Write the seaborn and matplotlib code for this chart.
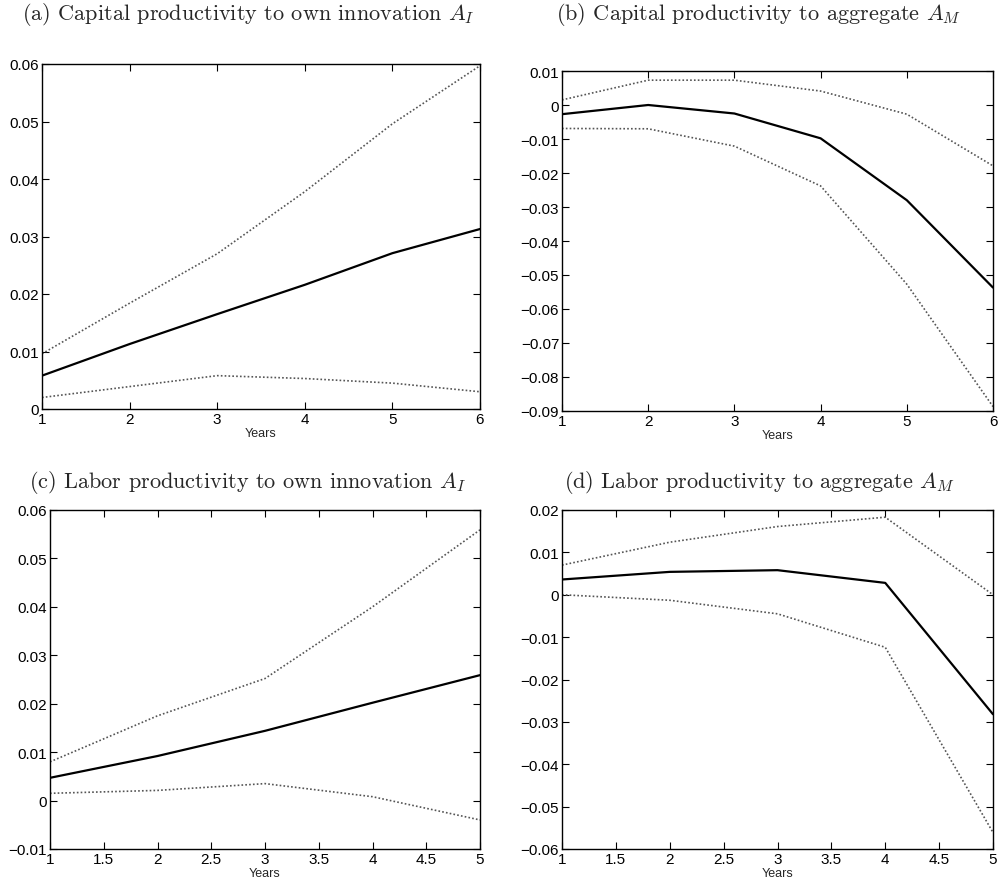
import matplotlib
matplotlib.use("Agg")
import matplotlib.pyplot as plt
import seaborn as sns
import numpy as np
import pandas as pd

# ---- data ----
years6 = [1, 2, 3, 4, 5, 6]
years5 = [1, 2, 3, 4, 5]

a_mean = [0.0058, 0.0113, 0.0165, 0.0216, 0.0271, 0.0313]
a_upper = [0.0096, 0.0184, 0.0270, 0.0378, 0.0496, 0.0597]
a_lower = [0.0020, 0.0039, 0.0058, 0.0053, 0.0045, 0.0030]

b_mean = [-0.0027, 0.0000, -0.0025, -0.0098, -0.0280, -0.0537]
b_upper = [0.0015, 0.0073, 0.0073, 0.0041, -0.0027, -0.0179]
b_lower = [-0.0069, -0.0070, -0.0121, -0.0238, -0.0527, -0.0887]

c_mean = [0.0047, 0.0092, 0.0144, 0.0202, 0.0259]
c_upper = [0.0080, 0.0175, 0.0252, 0.0400, 0.0559]
c_lower = [0.0015, 0.0021, 0.0035, 0.0008, -0.0040]

d_mean = [0.0036, 0.0054, 0.0058, 0.0028, -0.0282]
d_upper = [0.0070, 0.0124, 0.0161, 0.0183, 0.0000]
d_lower = [0.0000, -0.0013, -0.0045, -0.0124, -0.0561]

titles = [
    r"(a) Capital productivity to own innovation $A_I$",
    r"(b) Capital productivity to aggregate $A_M$",
    r"(c) Labor productivity to own innovation $A_I$",
    r"(d) Labor productivity to aggregate $A_M$",
]
xlabel = "Years"

sns.set_theme(style="ticks")
plt.rcParams["font.family"] = ["Liberation Sans", "DejaVu Sans"]
plt.rcParams["mathtext.fontset"] = "cm"

fig = plt.figure(figsize=(10, 8.87), dpi=100)

H = 887.0
def rect(l, t, r, b):
    return [l / 1000, 1 - b / H, (r - l) / 1000, (b - t) / H]

panels = [
    dict(rect=rect(42, 65, 480, 410), x=years6, m=a_mean, u=a_upper, lo=a_lower,
         ylim=(0, 0.06), yt=np.arange(0, 0.0601, 0.01), xt=[1, 2, 3, 4, 5, 6],
         title_xy=(248, 15)),
    dict(rect=rect(562, 72, 993, 412), x=years6, m=b_mean, u=b_upper, lo=b_lower,
         ylim=(-0.09, 0.01), yt=np.arange(-0.09, 0.0101, 0.01), xt=[1, 2, 3, 4, 5, 6],
         title_xy=(759, 15)),
    dict(rect=rect(50, 511, 480, 850), x=years5, m=c_mean, u=c_upper, lo=c_lower,
         ylim=(-0.01, 0.06), yt=np.arange(-0.01, 0.0601, 0.01), xt=np.arange(1, 5.01, 0.5),
         title_xy=(247, 482)),
    dict(rect=rect(562, 511, 993, 850), x=years5, m=d_mean, u=d_upper, lo=d_lower,
         ylim=(-0.06, 0.02), yt=np.arange(-0.06, 0.0201, 0.01), xt=np.arange(1, 5.01, 0.5),
         title_xy=(759, 482)),
]

def fmt(v):
    v = round(v, 4)
    if abs(v) < 1e-12:
        return "0"
    s = ("%g" % abs(v))
    return ("\u2212" if v < 0 else "") + s

for p, title in zip(panels, titles):
    ax = fig.add_axes(p["rect"])
    df = pd.DataFrame({"x": p["x"], "m": p["m"], "u": p["u"], "lo": p["lo"]})
    sns.lineplot(data=df, x="x", y="u", ax=ax, color="#555555", lw=1.2,
                 linestyle=(0, (1, 1.3)))
    sns.lineplot(data=df, x="x", y="lo", ax=ax, color="#555555", lw=1.2,
                 linestyle=(0, (1, 1.3)))
    sns.lineplot(data=df, x="x", y="m", ax=ax, color="black", lw=1.6)
    ax.set_xlim(p["x"][0], p["x"][-1])
    ax.set_ylim(*p["ylim"])
    ax.set_yticks(p["yt"])
    ax.set_yticklabels([fmt(v) for v in p["yt"]])
    ax.set_xticks(p["xt"])
    ax.set_xticklabels([fmt(v) for v in p["xt"]])
    ax.tick_params(direction="in", length=5, width=0.8, top=True, right=True,
                   labelsize=11, pad=2, colors="black")
    for s in ax.spines.values():
        s.set_linewidth(1.0)
        s.set_color("black")
    ax.set_ylabel("")
    ax.set_xlabel(xlabel, fontsize=9, labelpad=1)
    tx, ty = p["title_xy"]
    fig.text(tx / 1000, 1 - ty / H, title, ha="center", va="center",
             fontsize=16, family=["cmr10", "DejaVu Serif"])

fig.savefig("out.png", dpi=100)
